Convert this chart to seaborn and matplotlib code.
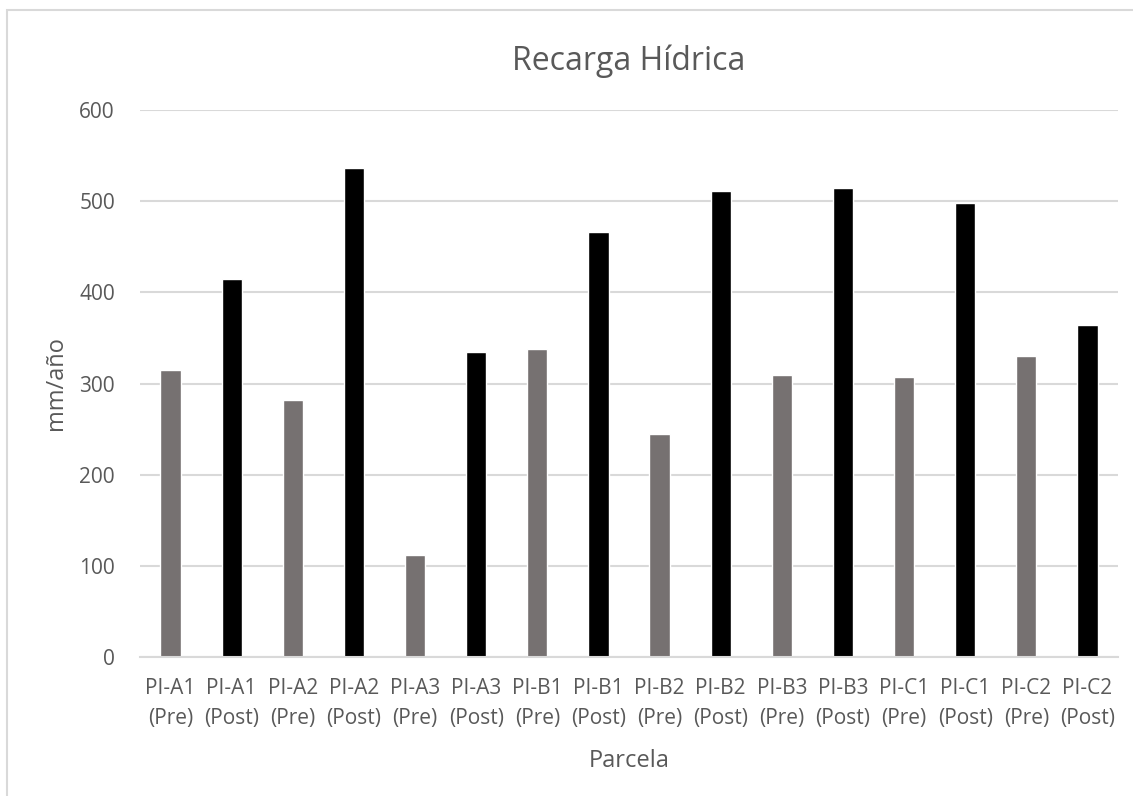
import matplotlib
matplotlib.use("Agg")
import matplotlib.pyplot as plt
import seaborn as sns
import pandas as pd
from matplotlib.patches import Rectangle

# Parcels and recharge values (mm/año)
parcelas = ["PI-A1", "PI-A1", "PI-A2", "PI-A2", "PI-A3", "PI-A3",
            "PI-B1", "PI-B1", "PI-B2", "PI-B2", "PI-B3", "PI-B3",
            "PI-C1", "PI-C1", "PI-C2", "PI-C2"]
periodos = ["Pre", "Post"] * 8
recarga = [315, 415, 282, 536, 112, 335, 338, 466,
           245, 511, 309, 514, 307, 498, 330, 364]

etiquetas = [f"{p}\n({t})" for p, t in zip(parcelas, periodos)]
df = pd.DataFrame({"etiqueta": etiquetas, "periodo": periodos, "recarga": recarga})

sns.set_theme(style="white")
plt.rcParams["font.family"] = ["Open Sans", "DejaVu Sans"]

text_color = "#595959"
grid_color = "#d9d9d9"

fig = plt.figure(figsize=(11.33, 7.96), dpi=100)
ax = fig.add_axes([140 / 1133, 1 - 657 / 796, 978 / 1133, 547 / 796])

sns.barplot(data=df, x="etiqueta", y="recarga", hue="periodo",
            palette={"Pre": "#767171", "Post": "#000000"},
            width=0.33, dodge=False, legend=False, ax=ax, saturation=1)

ax.set_ylim(0, 600)
ax.set_yticks(range(0, 601, 100))
ax.set_xlim(-0.5, len(etiquetas) - 0.5)
ax.yaxis.grid(True, color=grid_color, linewidth=1.5)
ax.set_axisbelow(True)
for side in ["left", "right", "top"]:
    ax.spines[side].set_visible(False)
ax.spines["bottom"].set_color(grid_color)
ax.spines["bottom"].set_linewidth(1.5)
ax.tick_params(axis="both", length=0, colors=text_color, labelsize=15)
ax.tick_params(axis="x", pad=15)
ax.tick_params(axis="y", pad=18)
for lbl in ax.get_xticklabels():
    lbl.set_linespacing(1.55)

ax.set_xlabel("Parcela", color=text_color, fontsize=17, labelpad=15)
ax.set_ylabel("mm/año", color=text_color, fontsize=17)
ax.yaxis.set_label_coords(-0.074, 0.5)
ax.set_title("Recarga Hídrica", color=text_color, fontsize=23, pad=29)

# Chart frame
fig.patches.append(Rectangle((7 / 1133, -0.2), 1.2, 1.2 - 10 / 796,
                             transform=fig.transFigure, fill=False,
                             edgecolor=grid_color, linewidth=1.5))

fig.savefig("out.png", dpi=100, facecolor="white")
